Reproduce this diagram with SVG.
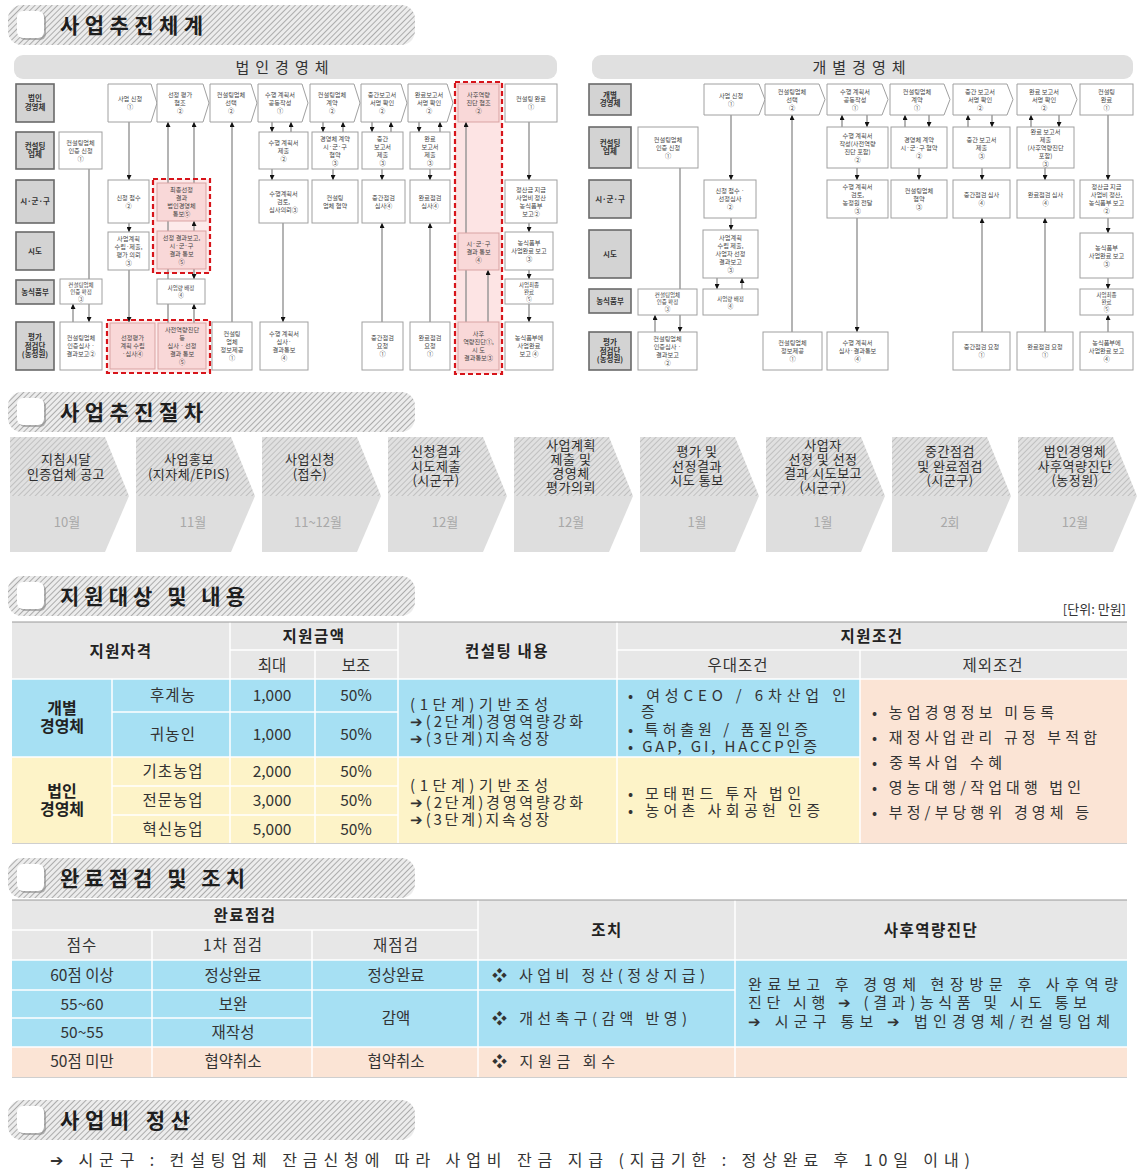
<svg xmlns="http://www.w3.org/2000/svg" width="1140" height="1171" viewBox="0 0 1140 1171">
<style>
.bx{fill:#fff;stroke:#a0a0a0;stroke-width:1}
.pk{fill:#f9d8d8;stroke:#d9a3a3;stroke-width:1}
.lb{fill:#d3d3d3;stroke:#6a6a6a;stroke-width:1.6}
.rd{fill:none;stroke:#d7141a;stroke-width:2.2;stroke-dasharray:5 3}
.t{font-family:"Noto Sans CJK KR","Noto Sans",sans-serif;font-size:6.2px;fill:#444;text-anchor:middle}
.ts{font-size:5.5px}
.tl{font-size:7.5px;font-weight:bold;fill:#333}
.cn line{stroke:#8c8c8c;stroke-width:1.3;fill:none;marker-end:url(#ah)}
.k{font-family:"Noto Sans CJK KR","Noto Sans",sans-serif;fill:#333}
.hd{font-size:21px;font-weight:bold;fill:#1e1e1e}
.pt{font-size:13px;text-anchor:middle;fill:#2e2e2e;letter-spacing:0.5px}
.pm{font-size:13px;text-anchor:middle;fill:#a8a8a8}
.th{font-size:15.5px;font-weight:bold;text-anchor:middle;fill:#222;letter-spacing:1.5px}
.tn{font-size:15.5px;text-anchor:middle;fill:#333}
.tb{font-size:16px;font-weight:bold;text-anchor:middle;fill:#222}
.tx{font-size:15px;fill:#333}
.gw line{stroke:#fff;stroke-width:1.5}
</style>
<defs>
<marker id="ah" viewBox="0 0 6 6" refX="6" refY="3" markerWidth="5" markerHeight="5" orient="auto" markerUnits="userSpaceOnUse"><path d="M0,0L6,3L0,6Z" fill="#111"/></marker>
<pattern id="hh" width="4" height="4" patternUnits="userSpaceOnUse" patternTransform="rotate(45)"><rect width="4" height="4" fill="#ececec"/><line x1="0" y1="0" x2="0" y2="4" stroke="#9c9c9c" stroke-width="1.6"/></pattern>
<pattern id="ph" width="4" height="4" patternUnits="userSpaceOnUse" patternTransform="rotate(45)"><rect width="4" height="4" fill="#e0e0e0"/><line x1="0" y1="0" x2="0" y2="4" stroke="#b3b3b3" stroke-width="1.4"/></pattern>
<g id="hbar">
<rect x="8" y="5" width="407" height="40" rx="14" fill="url(#hh)"/>
<rect x="19" y="13" width="27" height="27" rx="6" fill="#8a8a8a" opacity="0.6"/>
<rect x="17" y="11" width="27" height="27" rx="6" fill="#fff"/>
</g>
</defs>
<rect width="1140" height="1171" fill="#fff"/>

<!-- Section headers -->
<g id="h1"><use href="#hbar"/><text class="k hd" x="60" y="33" textLength="143">사업추진체계</text></g>
<g id="h2" transform="translate(0,387)"><use href="#hbar"/><text class="k hd" x="60" y="33" textLength="143">사업추진절차</text></g>
<g id="h3" transform="translate(0,571)"><use href="#hbar"/><text class="k hd" x="60" y="33" textLength="185">지원대상 및 내용</text></g>
<g id="h4" transform="translate(0,853)"><use href="#hbar"/><text class="k hd" x="60" y="33" textLength="185">완료점검 및 조치</text></g>
<g id="h5" transform="translate(0,1095)"><use href="#hbar"/><text class="k hd" x="60" y="33" textLength="130">사업비 정산</text></g>

<!-- Panel headers -->
<g id="ph-left"><rect x="14" y="55" width="543" height="24" rx="9" fill="#e0e0e0"/><text class="k" x="285" y="73" font-size="15" text-anchor="middle" letter-spacing="6" fill="#333">법인경영체</text></g>
<g id="ph-right"><rect x="592" y="55" width="541" height="24" rx="9" fill="#e0e0e0"/><text class="k" x="862" y="73" font-size="15" text-anchor="middle" letter-spacing="6" fill="#333">개별경영체</text></g>

<!-- backgrounds of red groups -->
<rect x="455" y="82" width="47" height="292" fill="#fde4e4"/>
<rect x="153" y="179" width="57" height="94" fill="#fdeaea"/>
<rect x="107" y="320" width="103" height="53" fill="#fdeaea"/>

<!-- Connectors -->
<g id="connectors" class="cn">
<line x1="89" y1="169" x2="89" y2="322"/>
<line x1="73" y1="322" x2="73" y2="304"/>
<line x1="129" y1="122" x2="129" y2="180"/>
<line x1="129" y1="223" x2="129" y2="232"/>
<line x1="129" y1="270" x2="129" y2="322"/>
<line x1="168" y1="323" x2="168" y2="122"/>
<line x1="194" y1="183" x2="194" y2="122"/>
<line x1="194" y1="231" x2="194" y2="221"/>
<line x1="194" y1="269" x2="194" y2="279"/>
<line x1="194" y1="323" x2="194" y2="304"/>
<line x1="232" y1="322" x2="232" y2="122"/>
<line x1="272" y1="122" x2="272" y2="132"/>
<line x1="291" y1="132" x2="291" y2="122"/>
<line x1="272" y1="169" x2="272" y2="180"/>
<line x1="283" y1="223" x2="283" y2="322"/>
<line x1="323" y1="122" x2="323" y2="132"/>
<line x1="343" y1="132" x2="343" y2="122"/>
<line x1="333" y1="169" x2="333" y2="180"/>
<line x1="372" y1="122" x2="372" y2="132"/>
<line x1="391" y1="132" x2="391" y2="122"/>
<line x1="382" y1="169" x2="382" y2="180"/>
<line x1="382" y1="322" x2="382" y2="223"/>
<line x1="419" y1="122" x2="419" y2="132"/>
<line x1="440" y1="132" x2="440" y2="122"/>
<line x1="430" y1="169" x2="430" y2="180"/>
<line x1="430" y1="322" x2="430" y2="223"/>
<line x1="466" y1="322" x2="466" y2="122"/>
<line x1="488" y1="322" x2="488" y2="270"/>
<line x1="529" y1="122" x2="529" y2="180"/>
<line x1="529" y1="223" x2="529" y2="232"/>
<line x1="529" y1="270" x2="529" y2="279"/>
<line x1="529" y1="304" x2="529" y2="322"/>
<line x1="680" y1="168" x2="680" y2="332"/>
<line x1="655" y1="332" x2="655" y2="315"/>
<line x1="731" y1="115" x2="731" y2="180"/>
<line x1="731" y1="218" x2="731" y2="230"/>
<line x1="717" y1="278" x2="717" y2="289"/>
<line x1="742" y1="289" x2="742" y2="278"/>
<line x1="792" y1="332" x2="792" y2="115"/>
<line x1="842" y1="127" x2="842" y2="115"/>
<line x1="867" y1="115" x2="867" y2="127"/>
<line x1="857" y1="168" x2="857" y2="180"/>
<line x1="857" y1="218" x2="857" y2="332"/>
<line x1="905" y1="127" x2="905" y2="115"/>
<line x1="929" y1="115" x2="929" y2="127"/>
<line x1="919" y1="168" x2="919" y2="180"/>
<line x1="968" y1="127" x2="968" y2="115"/>
<line x1="992" y1="115" x2="992" y2="127"/>
<line x1="982" y1="168" x2="982" y2="180"/>
<line x1="982" y1="332" x2="982" y2="218"/>
<line x1="1031" y1="127" x2="1031" y2="115"/>
<line x1="1059" y1="115" x2="1059" y2="127"/>
<line x1="1045" y1="168" x2="1045" y2="180"/>
<line x1="1045" y1="332" x2="1045" y2="218"/>
<line x1="1108" y1="115" x2="1108" y2="180"/>
<line x1="1108" y1="218" x2="1108" y2="233"/>
<line x1="1108" y1="278" x2="1108" y2="289"/>
<line x1="1108" y1="332" x2="1108" y2="315"/>
</g>

<!-- LEFT PANEL: row labels -->
<g id="L-lab1"><rect class="lb" x="16" y="84" width="38" height="38"/><text class="t tl" x="35" y="101.4"><tspan x="35">법인</tspan><tspan x="35" dy="8.5">경영체</tspan></text></g>
<g id="L-lab2"><rect class="lb" x="16" y="132" width="38" height="37"/><text class="t tl" x="35" y="148.9"><tspan x="35">컨설팅</tspan><tspan x="35" dy="8.5">업체</tspan></text></g>
<g id="L-lab3"><rect class="lb" x="16" y="180" width="38" height="43"/><text class="t tl" x="35" y="204.1">시·군·구</text></g>
<g id="L-lab4"><rect class="lb" x="16" y="232" width="38" height="38"/><text class="t tl" x="35" y="253.6">시도</text></g>
<g id="L-lab5"><rect class="lb" x="16" y="280" width="38" height="24"/><text class="t tl" x="35" y="294.6">농식품부</text></g>
<g id="L-lab6"><rect class="lb" x="16" y="322" width="38" height="48"/><text class="t tl" x="35" y="340.1"><tspan x="35">평가</tspan><tspan x="35" dy="8.5">점검단</tspan><tspan x="35" dy="8.5">(농정원)</tspan></text></g>

<!-- LEFT row 1 -->
<g id="L11"><path class="bx" d="M108,84H151L157,103L151,122H108Z"/><text class="t" x="130" y="101.2"><tspan x="130">사업 신청</tspan><tspan x="130" dy="8">①</tspan></text></g>
<g id="L12"><path class="bx" d="M157,84H203L209,103L203,122H157Z"/><text class="t" x="180" y="97.2"><tspan x="180">선정 평가</tspan><tspan x="180" dy="8">협조</tspan><tspan x="180" dy="8">②</tspan></text></g>
<g id="L13"><path class="bx" d="M210,84H251L257,103L251,122H210Z"/><text class="t" x="231" y="97.2"><tspan x="231">컨설팅업체</tspan><tspan x="231" dy="8">선택</tspan><tspan x="231" dy="8">②</tspan></text></g>
<g id="L14"><path class="bx" d="M258,84H302L308,103L302,122H258Z"/><text class="t" x="280" y="97.2"><tspan x="280">수행 계획서</tspan><tspan x="280" dy="8">공동작성</tspan><tspan x="280" dy="8">①</tspan></text></g>
<g id="L15"><path class="bx" d="M310,84H354L360,103L354,122H310Z"/><text class="t" x="332" y="97.2"><tspan x="332">컨설팅업체</tspan><tspan x="332" dy="8">계약</tspan><tspan x="332" dy="8">②</tspan></text></g>
<g id="L16"><path class="bx" d="M361,84H401L407,103L401,122H361Z"/><text class="t" x="382" y="97.2"><tspan x="382">중간보고서</tspan><tspan x="382" dy="8">서명 확인</tspan><tspan x="382" dy="8">②</tspan></text></g>
<g id="L17"><path class="bx" d="M408,84H447L453,103L447,122H408Z"/><text class="t" x="429" y="97.2"><tspan x="429">완료보고서</tspan><tspan x="429" dy="8">서명 확인</tspan><tspan x="429" dy="8">②</tspan></text></g>
<g id="L18"><rect class="pk" x="458" y="84" width="41" height="38"/><text class="t" x="478.5" y="97.2"><tspan x="478.5">사후역량</tspan><tspan x="478.5" dy="8">진단 협조</tspan><tspan x="478.5" dy="8">②</tspan></text></g>
<g id="L19"><rect class="bx" x="505" y="84" width="52" height="38"/><text class="t" x="531" y="101.2"><tspan x="531">컨설팅 완료</tspan><tspan x="531" dy="8">①</tspan></text></g>

<!-- LEFT row 2 -->
<g id="L20"><rect class="bx" x="59" y="132" width="43" height="37"/><text class="t" x="80.5" y="144.7"><tspan x="80.5">컨설팅업체</tspan><tspan x="80.5" dy="8">인증 신청</tspan><tspan x="80.5" dy="8">①</tspan></text></g>
<g id="L24"><rect class="bx" x="259" y="132" width="49" height="37"/><text class="t" x="283.5" y="144.7"><tspan x="283.5">수행 계획서</tspan><tspan x="283.5" dy="8">제출</tspan><tspan x="283.5" dy="8">②</tspan></text></g>
<g id="L25"><rect class="bx" x="312" y="132" width="46" height="37"/><text class="t" x="335" y="140.7"><tspan x="335">경영체 계약</tspan><tspan x="335" dy="8">시·군·구</tspan><tspan x="335" dy="8">협약</tspan><tspan x="335" dy="8">③</tspan></text></g>
<g id="L26"><rect class="bx" x="362" y="132" width="41" height="37"/><text class="t" x="382.5" y="140.7"><tspan x="382.5">중간</tspan><tspan x="382.5" dy="8">보고서</tspan><tspan x="382.5" dy="8">제출</tspan><tspan x="382.5" dy="8">③</tspan></text></g>
<g id="L27"><rect class="bx" x="410" y="132" width="40" height="37"/><text class="t" x="430" y="140.7"><tspan x="430">완료</tspan><tspan x="430" dy="8">보고서</tspan><tspan x="430" dy="8">제출</tspan><tspan x="430" dy="8">③</tspan></text></g>

<!-- LEFT row 3 -->
<g id="L31"><rect class="bx" x="108" y="180" width="41" height="43"/><text class="t" x="128.5" y="199.7"><tspan x="128.5">신청 접수</tspan><tspan x="128.5" dy="8">②</tspan></text></g>
<g id="L32"><rect class="pk" x="157" y="183" width="49" height="38"/><text class="t" x="181.5" y="192.2"><tspan x="181.5">최종선정</tspan><tspan x="181.5" dy="8">결과</tspan><tspan x="181.5" dy="8">법인경영체</tspan><tspan x="181.5" dy="8">통보⑤</tspan></text></g>
<g id="L34"><rect class="bx" x="259" y="180" width="49" height="43"/><text class="t" x="283.5" y="195.7"><tspan x="283.5">수행계획서</tspan><tspan x="283.5" dy="8">검토,</tspan><tspan x="283.5" dy="8">심사의뢰③</tspan></text></g>
<g id="L35"><rect class="bx" x="312" y="180" width="46" height="43"/><text class="t" x="335" y="199.7"><tspan x="335">컨설팅</tspan><tspan x="335" dy="8">업체 협약</tspan></text></g>
<g id="L36"><rect class="bx" x="362" y="180" width="43" height="43"/><text class="t" x="383.5" y="199.7"><tspan x="383.5">중간점검</tspan><tspan x="383.5" dy="8">심사④</tspan></text></g>
<g id="L37"><rect class="bx" x="410" y="180" width="40" height="43"/><text class="t" x="430" y="199.7"><tspan x="430">완료점검</tspan><tspan x="430" dy="8">심사④</tspan></text></g>
<g id="L39"><rect class="bx" x="505" y="180" width="52" height="43"/><text class="t" x="531" y="191.7"><tspan x="531">정산금 지급</tspan><tspan x="531" dy="8">사업비 정산</tspan><tspan x="531" dy="8">농식품부</tspan><tspan x="531" dy="8">보고②</tspan></text></g>

<!-- LEFT row 4 -->
<g id="L41"><rect class="bx" x="108" y="232" width="41" height="38"/><text class="t" x="128.5" y="241.2"><tspan x="128.5">사업계획</tspan><tspan x="128.5" dy="8">수립·제출,</tspan><tspan x="128.5" dy="8">평가 의뢰</tspan><tspan x="128.5" dy="8">③</tspan></text></g>
<g id="L42"><rect class="pk" x="157" y="231" width="49" height="38"/><text class="t" x="181.5" y="240.2"><tspan x="181.5">선정 결과보고,</tspan><tspan x="181.5" dy="8">시·군·구</tspan><tspan x="181.5" dy="8">결과 통보</tspan><tspan x="181.5" dy="8">⑤</tspan></text></g>
<g id="L48"><rect class="pk" x="458" y="233" width="41" height="37"/><text class="t" x="478.5" y="245.7"><tspan x="478.5">시·군·구</tspan><tspan x="478.5" dy="8">결과 통보</tspan><tspan x="478.5" dy="8">④</tspan></text></g>
<g id="L49"><rect class="bx" x="505" y="232" width="48" height="38"/><text class="t" x="529" y="245.2"><tspan x="529">농식품부</tspan><tspan x="529" dy="8">사업완료 보고</tspan><tspan x="529" dy="8">③</tspan></text></g>

<!-- LEFT row 5 -->
<g id="L50"><rect class="bx" x="60" y="279" width="42" height="25"/><text class="t ts" x="81" y="286.5"><tspan x="81">컨설팅업체</tspan><tspan x="81" dy="7">인증 확정</tspan><tspan x="81" dy="7">③</tspan></text></g>
<g id="L52"><rect class="bx" x="157" y="279" width="48" height="25"/><text class="t ts" x="181" y="290"><tspan x="181">사업량 배정</tspan><tspan x="181" dy="7">④</tspan></text></g>
<g id="L59"><rect class="bx" x="505" y="279" width="48" height="25"/><text class="t ts" x="529" y="286.5"><tspan x="529">사업최종</tspan><tspan x="529" dy="7">완료</tspan><tspan x="529" dy="7">⑤</tspan></text></g>

<!-- LEFT row 6 -->
<g id="L60"><rect class="bx" x="60" y="322" width="42" height="48"/><text class="t" x="81" y="340.2"><tspan x="81">컨설팅업체</tspan><tspan x="81" dy="8">인증심사 ·</tspan><tspan x="81" dy="8">결과보고②</tspan></text></g>
<g id="L61"><rect class="pk" x="110" y="323" width="45" height="46"/><text class="t" x="132.5" y="340.2"><tspan x="132.5">선정평가</tspan><tspan x="132.5" dy="8">계획 수립</tspan><tspan x="132.5" dy="8">·심사④</tspan></text></g>
<g id="L62"><rect class="pk" x="158" y="323" width="48" height="46"/><text class="t" x="182" y="332.2"><tspan x="182">사전역량진단</tspan><tspan x="182" dy="8">등</tspan><tspan x="182" dy="8">심사 · 선정</tspan><tspan x="182" dy="8">결과 통보</tspan><tspan x="182" dy="8">⑤</tspan></text></g>
<g id="L63"><rect class="bx" x="212" y="322" width="40" height="48"/><text class="t" x="232" y="336.2"><tspan x="232">컨설팅</tspan><tspan x="232" dy="8">업체</tspan><tspan x="232" dy="8">정보제공</tspan><tspan x="232" dy="8">①</tspan></text></g>
<g id="L64"><rect class="bx" x="260" y="322" width="48" height="48"/><text class="t" x="284" y="336.2"><tspan x="284">수행 계획서</tspan><tspan x="284" dy="8">심사·</tspan><tspan x="284" dy="8">결과통보</tspan><tspan x="284" dy="8">④</tspan></text></g>
<g id="L66"><rect class="bx" x="362" y="322" width="41" height="48"/><text class="t" x="382.5" y="340.2"><tspan x="382.5">중간점검</tspan><tspan x="382.5" dy="8">요청</tspan><tspan x="382.5" dy="8">①</tspan></text></g>
<g id="L67"><rect class="bx" x="410" y="322" width="40" height="48"/><text class="t" x="430" y="340.2"><tspan x="430">완료점검</tspan><tspan x="430" dy="8">요청</tspan><tspan x="430" dy="8">①</tspan></text></g>
<g id="L68"><rect class="pk" x="458" y="322" width="41" height="48"/><text class="t" x="478.5" y="336.2"><tspan x="478.5">사후</tspan><tspan x="478.5" dy="8">역량진단①,</tspan><tspan x="478.5" dy="8">시 도</tspan><tspan x="478.5" dy="8">결과통보③</tspan></text></g>
<g id="L69"><rect class="bx" x="505" y="322" width="48" height="48"/><text class="t" x="529" y="340.2"><tspan x="529">농식품부에</tspan><tspan x="529" dy="8">사업완료</tspan><tspan x="529" dy="8">보고 ④</tspan></text></g>

<!-- red dashed outlines -->
<rect class="rd" x="455" y="82" width="47" height="292"/>
<rect class="rd" x="153" y="179" width="57" height="94"/>
<rect class="rd" x="107" y="320" width="103" height="53"/>

<!-- RIGHT PANEL labels -->
<g id="R-lab1"><rect class="lb" x="589" y="84" width="42" height="31"/><text class="t tl" x="610" y="97.9"><tspan x="610">개별</tspan><tspan x="610" dy="8.5">경영체</tspan></text></g>
<g id="R-lab2"><rect class="lb" x="589" y="127" width="42" height="41"/><text class="t tl" x="610" y="145.9"><tspan x="610">컨설팅</tspan><tspan x="610" dy="8.5">업체</tspan></text></g>
<g id="R-lab3"><rect class="lb" x="589" y="180" width="42" height="38"/><text class="t tl" x="610" y="201.6">시·군·구</text></g>
<g id="R-lab4"><rect class="lb" x="589" y="230" width="42" height="48"/><text class="t tl" x="610" y="256.6">시도</text></g>
<g id="R-lab5"><rect class="lb" x="589" y="289" width="42" height="24"/><text class="t tl" x="610" y="303.6">농식품부</text></g>
<g id="R-lab6"><rect class="lb" x="589" y="332" width="42" height="38"/><text class="t tl" x="610" y="345.1"><tspan x="610">평가</tspan><tspan x="610" dy="8.5">점검단</tspan><tspan x="610" dy="8.5">(농정원)</tspan></text></g>

<!-- RIGHT row 1 -->
<g id="R11"><path class="bx" d="M704,84H759L765,99.5L759,115H704Z"/><text class="t" x="731" y="97.7"><tspan x="731">사업 신청</tspan><tspan x="731" dy="8">①</tspan></text></g>
<g id="R12"><path class="bx" d="M765,84H819L825,99.5L819,115H765Z"/><text class="t" x="792" y="93.7"><tspan x="792">컨설팅업체</tspan><tspan x="792" dy="8">선택</tspan><tspan x="792" dy="8">②</tspan></text></g>
<g id="R13"><path class="bx" d="M827,84H882L888,99.5L882,115H827Z"/><text class="t" x="855" y="93.7"><tspan x="855">수행 계획서</tspan><tspan x="855" dy="8">공동작성</tspan><tspan x="855" dy="8">①</tspan></text></g>
<g id="R14"><path class="bx" d="M890,84H944L950,99.5L944,115H890Z"/><text class="t" x="917" y="93.7"><tspan x="917">컨설팅업체</tspan><tspan x="917" dy="8">계약</tspan><tspan x="917" dy="8">①</tspan></text></g>
<g id="R15"><path class="bx" d="M953,84H1007L1013,99.5L1007,115H953Z"/><text class="t" x="980" y="93.7"><tspan x="980">중간 보고서</tspan><tspan x="980" dy="8">서명 확인</tspan><tspan x="980" dy="8">②</tspan></text></g>
<g id="R16"><path class="bx" d="M1017,84H1071L1077,99.5L1071,115H1017Z"/><text class="t" x="1044" y="93.7"><tspan x="1044">완료 보고서</tspan><tspan x="1044" dy="8">서명 확인</tspan><tspan x="1044" dy="8">②</tspan></text></g>
<g id="R17"><rect class="bx" x="1080" y="84" width="53" height="31"/><text class="t" x="1106.5" y="93.7"><tspan x="1106.5">컨설팅</tspan><tspan x="1106.5" dy="8">완료</tspan><tspan x="1106.5" dy="8">①</tspan></text></g>

<!-- RIGHT row 2 -->
<g id="R20"><rect class="bx" x="638" y="127" width="60" height="41"/><text class="t" x="668" y="141.7"><tspan x="668">컨설팅업체</tspan><tspan x="668" dy="8">인증 신청</tspan><tspan x="668" dy="8">①</tspan></text></g>
<g id="R23"><rect class="bx" x="827" y="127" width="61" height="41"/><text class="t" x="857.5" y="137.7"><tspan x="857.5">수행 계획서</tspan><tspan x="857.5" dy="8">작성(사전역량</tspan><tspan x="857.5" dy="8">진단 포함)</tspan><tspan x="857.5" dy="8">②</tspan></text></g>
<g id="R24"><rect class="bx" x="891" y="127" width="56" height="41"/><text class="t" x="919" y="141.7"><tspan x="919">경영체 계약</tspan><tspan x="919" dy="8">시·군·구 협약</tspan><tspan x="919" dy="8">②</tspan></text></g>
<g id="R25"><rect class="bx" x="953" y="127" width="57" height="41"/><text class="t" x="981.5" y="141.7"><tspan x="981.5">중간 보고서</tspan><tspan x="981.5" dy="8">제출</tspan><tspan x="981.5" dy="8">③</tspan></text></g>
<g id="R26"><rect class="bx" x="1017" y="127" width="57" height="41"/><text class="t" x="1045.5" y="133.7"><tspan x="1045.5">완료 보고서</tspan><tspan x="1045.5" dy="8">제출</tspan><tspan x="1045.5" dy="8">(사후역량진단</tspan><tspan x="1045.5" dy="8">포함)</tspan><tspan x="1045.5" dy="8">③</tspan></text></g>

<!-- RIGHT row 3 -->
<g id="R31"><rect class="bx" x="704" y="180" width="52" height="38"/><text class="t" x="730" y="193.2"><tspan x="730">신청 접수 ·</tspan><tspan x="730" dy="8">선정심사</tspan><tspan x="730" dy="8">②</tspan></text></g>
<g id="R33"><rect class="bx" x="827" y="180" width="61" height="38"/><text class="t" x="857.5" y="189.2"><tspan x="857.5">수행 계획서</tspan><tspan x="857.5" dy="8">검토,</tspan><tspan x="857.5" dy="8">농정원 전달</tspan><tspan x="857.5" dy="8">③</tspan></text></g>
<g id="R34"><rect class="bx" x="891" y="180" width="56" height="38"/><text class="t" x="919" y="193.2"><tspan x="919">컨설팅업체</tspan><tspan x="919" dy="8">협약</tspan><tspan x="919" dy="8">③</tspan></text></g>
<g id="R35"><rect class="bx" x="953" y="180" width="57" height="38"/><text class="t" x="981.5" y="197.2"><tspan x="981.5">중간점검 심사</tspan><tspan x="981.5" dy="8">④</tspan></text></g>
<g id="R36"><rect class="bx" x="1017" y="180" width="57" height="38"/><text class="t" x="1045.5" y="197.2"><tspan x="1045.5">완료점검 심사</tspan><tspan x="1045.5" dy="8">④</tspan></text></g>
<g id="R37"><rect class="bx" x="1080" y="180" width="53" height="38"/><text class="t" x="1106.5" y="189.2"><tspan x="1106.5">정산금 지급</tspan><tspan x="1106.5" dy="8">사업비 정산,</tspan><tspan x="1106.5" dy="8">농식품부 보고</tspan><tspan x="1106.5" dy="8">②</tspan></text></g>

<!-- RIGHT row 4 -->
<g id="R41"><rect class="bx" x="703" y="230" width="55" height="48"/><text class="t" x="730.5" y="240.2"><tspan x="730.5">사업계획</tspan><tspan x="730.5" dy="8">수립 제출,</tspan><tspan x="730.5" dy="8">사업자 선정</tspan><tspan x="730.5" dy="8">결과보고</tspan><tspan x="730.5" dy="8">③</tspan></text></g>
<g id="R47"><rect class="bx" x="1080" y="233" width="53" height="45"/><text class="t" x="1106.5" y="249.7"><tspan x="1106.5">농식품부</tspan><tspan x="1106.5" dy="8">사업완료 보고</tspan><tspan x="1106.5" dy="8">③</tspan></text></g>

<!-- RIGHT row 5 -->
<g id="R50"><rect class="bx" x="638" y="289" width="59" height="26"/><text class="t ts" x="667.5" y="297"><tspan x="667.5">컨설팅업체</tspan><tspan x="667.5" dy="7">인증 확정</tspan><tspan x="667.5" dy="7">③</tspan></text></g>
<g id="R51"><rect class="bx" x="703" y="289" width="55" height="26"/><text class="t ts" x="730.5" y="300.5"><tspan x="730.5">사업량 배정</tspan><tspan x="730.5" dy="7">④</tspan></text></g>
<g id="R57"><rect class="bx" x="1080" y="289" width="53" height="26"/><text class="t ts" x="1106.5" y="297"><tspan x="1106.5">사업최종</tspan><tspan x="1106.5" dy="7">완료</tspan><tspan x="1106.5" dy="7">⑤</tspan></text></g>

<!-- RIGHT row 6 -->
<g id="R60"><rect class="bx" x="638" y="332" width="59" height="38"/><text class="t" x="667.5" y="341.2"><tspan x="667.5">컨설팅업체</tspan><tspan x="667.5" dy="8">인증심사 ·</tspan><tspan x="667.5" dy="8">결과보고</tspan><tspan x="667.5" dy="8">②</tspan></text></g>
<g id="R62"><rect class="bx" x="763" y="332" width="59" height="38"/><text class="t" x="792.5" y="345.2"><tspan x="792.5">컨설팅업체</tspan><tspan x="792.5" dy="8">정보제공</tspan><tspan x="792.5" dy="8">①</tspan></text></g>
<g id="R63"><rect class="bx" x="827" y="332" width="61" height="38"/><text class="t" x="857.5" y="345.2"><tspan x="857.5">수행 계획서</tspan><tspan x="857.5" dy="8">심사·결과통보</tspan><tspan x="857.5" dy="8">④</tspan></text></g>
<g id="R65"><rect class="bx" x="953" y="332" width="57" height="38"/><text class="t" x="981.5" y="349.2"><tspan x="981.5">중간점검 요청</tspan><tspan x="981.5" dy="8">①</tspan></text></g>
<g id="R66"><rect class="bx" x="1017" y="332" width="56" height="38"/><text class="t" x="1045" y="349.2"><tspan x="1045">완료점검 요청</tspan><tspan x="1045" dy="8">①</tspan></text></g>
<g id="R67"><rect class="bx" x="1080" y="332" width="53" height="38"/><text class="t" x="1106.5" y="345.2"><tspan x="1106.5">농식품부에</tspan><tspan x="1106.5" dy="8">사업완료 보고</tspan><tspan x="1106.5" dy="8">④</tspan></text></g>

<!-- PROCESS -->
<g id="process">
<g id="s1" transform="translate(10,0)"><path d="M0,437H95L119,496H0Z" fill="url(#ph)"/><path d="M0,496H119L95,552H0Z" fill="#dedede"/><text class="k pt" x="56" y="463.5"><tspan x="56">지침시달</tspan><tspan x="56" dy="15">인증업체 공고</tspan></text><text class="k pm" x="57" y="527">10월</text></g>
<g id="s2" transform="translate(136,0)"><path d="M0,437H95L119,496H0Z" fill="url(#ph)"/><path d="M0,496H119L95,552H0Z" fill="#dedede"/><text class="k pt" x="53" y="463.5"><tspan x="53">사업홍보</tspan><tspan x="53" dy="15">(지자체/EPIS)</tspan></text><text class="k pm" x="57" y="527">11월</text></g>
<g id="s3" transform="translate(262,0)"><path d="M0,437H95L119,496H0Z" fill="url(#ph)"/><path d="M0,496H119L95,552H0Z" fill="#dedede"/><text class="k pt" x="48" y="463.5"><tspan x="48">사업신청</tspan><tspan x="48" dy="15">(접수)</tspan></text><text class="k pm" x="56" y="527">11~12월</text></g>
<g id="s4" transform="translate(388,0)"><path d="M0,437H95L119,496H0Z" fill="url(#ph)"/><path d="M0,496H119L95,552H0Z" fill="#dedede"/><text class="k pt" x="48" y="456.3"><tspan x="48">신청결과</tspan><tspan x="48" dy="14.5">시도제출</tspan><tspan x="48" dy="14.5">(시군구)</tspan></text><text class="k pm" x="57" y="527">12월</text></g>
<g id="s5" transform="translate(514,0)"><path d="M0,437H95L119,496H0Z" fill="url(#ph)"/><path d="M0,496H119L95,552H0Z" fill="#dedede"/><text class="k pt" x="57" y="449.8" font-size="12.5"><tspan x="57">사업계획</tspan><tspan x="57" dy="14">제출 및</tspan><tspan x="57" dy="14">경영체</tspan><tspan x="57" dy="14">평가의뢰</tspan></text><text class="k pm" x="57" y="527">12월</text></g>
<g id="s6" transform="translate(640,0)"><path d="M0,437H95L119,496H0Z" fill="url(#ph)"/><path d="M0,496H119L95,552H0Z" fill="#dedede"/><text class="k pt" x="57" y="456.3"><tspan x="57">평가 및</tspan><tspan x="57" dy="14.5">선정결과</tspan><tspan x="57" dy="14.5">시도 통보</tspan></text><text class="k pm" x="57" y="527">1월</text></g>
<g id="s7" transform="translate(766,0)"><path d="M0,437H95L119,496H0Z" fill="url(#ph)"/><path d="M0,496H119L95,552H0Z" fill="#dedede"/><text class="k pt" x="57" y="449.8" font-size="12.5"><tspan x="57">사업자</tspan><tspan x="57" dy="14">선정 및 선정</tspan><tspan x="57" dy="14">결과 시도보고</tspan><tspan x="57" dy="14">(시군구)</tspan></text><text class="k pm" x="57" y="527">1월</text></g>
<g id="s8" transform="translate(892,0)"><path d="M0,437H95L119,496H0Z" fill="url(#ph)"/><path d="M0,496H119L95,552H0Z" fill="#dedede"/><text class="k pt" x="58" y="456.3"><tspan x="58">중간점검</tspan><tspan x="58" dy="14.5">및 완료점검</tspan><tspan x="58" dy="14.5">(시군구)</tspan></text><text class="k pm" x="58" y="527">2회</text></g>
<g id="s9" transform="translate(1018,0)"><path d="M0,437H95L119,496H0Z" fill="url(#ph)"/><path d="M0,496H119L95,552H0Z" fill="#dedede"/><text class="k pt" x="57" y="456.3"><tspan x="57">법인경영체</tspan><tspan x="57" dy="14.5">사후역량진단</tspan><tspan x="57" dy="14.5">(농정원)</tspan></text><text class="k pm" x="57" y="527">12월</text></g>
</g>

<!-- TABLE 1 -->
<g id="table1">
<text class="k" x="1126" y="614" font-size="13" text-anchor="end" fill="#444">[단위: 만원]</text>
<rect x="12" y="622" width="1115" height="57" fill="#e7e7e7"/>
<rect x="12" y="679" width="848" height="78" fill="#a6e0f3"/>
<rect x="12" y="757" width="848" height="86" fill="#fdf3c8"/>
<rect x="860" y="679" width="267" height="164" fill="#fbe4d5"/>
<g class="gw">
<line x1="230" y1="650" x2="398" y2="650"/>
<line x1="617" y1="650" x2="1127" y2="650"/>
<line x1="230" y1="622" x2="230" y2="843"/>
<line x1="398" y1="622" x2="398" y2="843"/>
<line x1="617" y1="622" x2="617" y2="843"/>
<line x1="315" y1="650" x2="315" y2="843"/>
<line x1="860" y1="650" x2="860" y2="843"/>
<line x1="112" y1="679" x2="112" y2="843"/>
<line x1="12" y1="679" x2="1127" y2="679"/>
<line x1="112" y1="712" x2="398" y2="712"/>
<line x1="12" y1="757" x2="860" y2="757"/>
<line x1="112" y1="786" x2="398" y2="786"/>
<line x1="112" y1="815" x2="398" y2="815"/>
</g>
<line x1="12" y1="622" x2="1127" y2="622" stroke="#9a9a9a" stroke-width="1.2"/>
<line x1="12" y1="843.5" x2="1127" y2="843.5" stroke="#cfcfcf" stroke-width="1"/>
<text class="k th" x="121" y="657">지원자격</text>
<text class="k th" x="314" y="642">지원금액</text>
<text class="k th" x="507" y="657">컨설팅 내용</text>
<text class="k th" x="872" y="642">지원조건</text>
<text class="k tn" x="272" y="671">최대</text>
<text class="k tn" x="356" y="671">보조</text>
<text class="k tn" x="738" y="671" letter-spacing="1">우대조건</text>
<text class="k tn" x="993" y="671" letter-spacing="1">제외조건</text>
<text class="k tb" x="62" y="714"><tspan x="62">개별</tspan><tspan x="62" dy="18">경영체</tspan></text>
<text class="k tn" x="173" y="701" letter-spacing="1">후계농</text>
<text class="k tn" x="173" y="740" letter-spacing="1">귀농인</text>
<text class="k tn" x="272" y="701">1,000</text><text class="k tn" x="356" y="701">50%</text>
<text class="k tn" x="272" y="740">1,000</text><text class="k tn" x="356" y="740">50%</text>
<text class="k tx" x="410" y="710" textLength="138">(1단계)기반조성</text>
<text class="k tx" x="410" y="727" textLength="173">➔(2단계)경영역량강화</text>
<text class="k tx" x="410" y="744" textLength="139">➔(3단계)지속성장</text>
<text class="k tx" x="628" y="701" textLength="218">•  여성CEO / 6차산업 인</text>
<text class="k tx" x="641" y="717">증</text>
<text class="k tx" x="628" y="735" textLength="180">•  특허출원 / 품질인증</text>
<text class="k tx" x="628" y="752" textLength="189">•  GAP, GI, HACCP인증</text>
<text class="k tb" x="62" y="797"><tspan x="62">법인</tspan><tspan x="62" dy="18">경영체</tspan></text>
<text class="k tn" x="173" y="777" letter-spacing="1">기초농업</text>
<text class="k tn" x="173" y="806" letter-spacing="1">전문농업</text>
<text class="k tn" x="173" y="835" letter-spacing="1">혁신농업</text>
<text class="k tn" x="272" y="777">2,000</text><text class="k tn" x="356" y="777">50%</text>
<text class="k tn" x="272" y="806">3,000</text><text class="k tn" x="356" y="806">50%</text>
<text class="k tn" x="272" y="835">5,000</text><text class="k tn" x="356" y="835">50%</text>
<text class="k tx" x="410" y="791" textLength="138">(1단계)기반조성</text>
<text class="k tx" x="410" y="808" textLength="173">➔(2단계)경영역량강화</text>
<text class="k tx" x="410" y="825" textLength="139">➔(3단계)지속성장</text>
<text class="k tx" x="628" y="799" textLength="173">•  모태펀드 투자 법인</text>
<text class="k tx" x="628" y="816" textLength="192">•  농어촌 사회공헌 인증</text>
<text class="k tx" x="872" y="718" textLength="182">•  농업경영정보 미등록</text>
<text class="k tx" x="872" y="743" textLength="225">•  재정사업관리 규정 부적합</text>
<text class="k tx" x="872" y="768" textLength="130">•  중복사업 수혜</text>
<text class="k tx" x="872" y="793" textLength="209">•  영농대행/작업대행 법인</text>
<text class="k tx" x="872" y="818" textLength="217">•  부정/부당행위 경영체 등</text>
</g>

<!-- TABLE 2 -->
<g id="table2">
<rect x="12" y="900" width="1115" height="60" fill="#e7e7e7"/>
<rect x="12" y="960" width="1115" height="87" fill="#a6e0f3"/>
<rect x="12" y="1047" width="1115" height="30" fill="#fbe4d5"/>
<g class="gw">
<line x1="12" y1="930" x2="478" y2="930"/>
<line x1="152" y1="930" x2="152" y2="1077"/>
<line x1="312" y1="930" x2="312" y2="1077"/>
<line x1="478" y1="900" x2="478" y2="1077"/>
<line x1="735" y1="900" x2="735" y2="1077"/>
<line x1="12" y1="960" x2="1127" y2="960"/>
<line x1="12" y1="990" x2="735" y2="990"/>
<line x1="12" y1="1018" x2="312" y2="1018"/>
<line x1="12" y1="1047" x2="1127" y2="1047"/>
</g>
<line x1="12" y1="900" x2="1127" y2="900" stroke="#9a9a9a" stroke-width="1.2"/>
<line x1="12" y1="1077.5" x2="1127" y2="1077.5" stroke="#cfcfcf" stroke-width="1"/>
<text class="k th" x="245" y="921">완료점검</text>
<text class="k th" x="607" y="936" letter-spacing="12">조치</text>
<text class="k th" x="931" y="936">사후역량진단</text>
<text class="k tn" x="82" y="951" letter-spacing="1">점수</text>
<text class="k tn" x="233" y="951" letter-spacing="1">1차 점검</text>
<text class="k tn" x="396" y="951" letter-spacing="1">재점검</text>
<text class="k tn" x="82" y="981">60점 이상</text>
<text class="k tn" x="233" y="981">정상완료</text>
<text class="k tn" x="396" y="981">정상완료</text>
<text class="k tn" x="82" y="1010">55~60</text>
<text class="k tn" x="233" y="1010">보완</text>
<text class="k tn" x="82" y="1038">50~55</text>
<text class="k tn" x="233" y="1038">재작성</text>
<text class="k tn" x="396" y="1024">감액</text>
<text class="k tn" x="82" y="1067">50점 미만</text>
<text class="k tn" x="233" y="1067">협약취소</text>
<text class="k tn" x="396" y="1067">협약취소</text>
<text class="k tx" x="492" y="981" font-size="15.5" textLength="213">❖ 사업비 정산(정상지급)</text>
<text class="k tx" x="492" y="1024" font-size="15.5" textLength="195">❖ 개선촉구(감액 반영)</text>
<text class="k tx" x="492" y="1067" font-size="15.5" textLength="123">❖ 지원금 회수</text>
<text class="k tx" x="748" y="990" font-size="15.5" textLength="370">완료보고 후 경영체 현장방문 후 사후역량</text>
<text class="k tx" x="748" y="1008" font-size="15.5" textLength="339">진단 시행 ➔ (결과)농식품 및 시도 통보</text>
<text class="k tx" x="748" y="1027" font-size="15.5" textLength="362">➔ 시군구 통보 ➔ 법인경영체/컨설팅업체</text>
</g>

<!-- Section 5 text -->
<text id="settle" class="k" x="50" y="1166" font-size="16" fill="#222" textLength="920">➔ 시군구 : 컨설팅업체 잔금신청에 따라 사업비 잔금 지급 (지급기한 : 정상완료 후 10일 이내)</text>
</svg>
